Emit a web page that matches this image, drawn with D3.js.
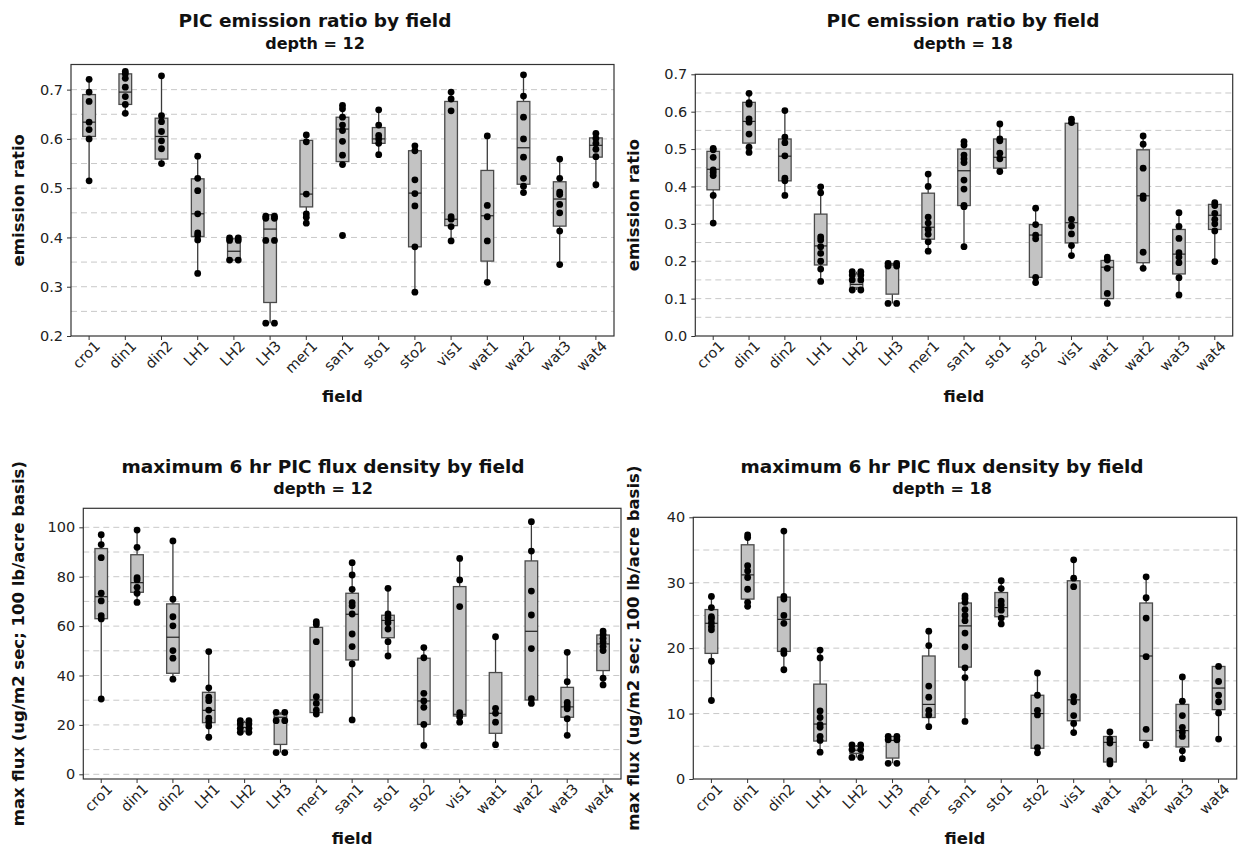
<!DOCTYPE html>
<html>
<head>
<meta charset="utf-8">
<script src="https://cdn.jsdelivr.net/npm/d3@7/dist/d3.min.js"></script>
<style>
body { margin: 0; background: #fff; }
svg text { font-family: "DejaVu Sans", Verdana, sans-serif; fill: #111; }
</style>
</head>
<body>
<svg id="chart" width="1241" height="850"></svg>
<script>
// field names (x categories, same for all 4 panels)
var fields = ["cro1", "din1", "din2", "LH1", "LH2", "LH3", "mer1", "san1", "sto1", "sto2", "vis1", "wat1", "wat2", "wat3", "wat4"];

// emission ratio, depth = 12
var ratio12Points = [
    [0.721, 0.695, 0.676, 0.634, 0.619, 0.600, 0.515],
    [0.737, 0.732, 0.723, 0.705, 0.686, 0.670, 0.652],
    [0.728, 0.647, 0.635, 0.615, 0.596, 0.580, 0.550],
    [0.565, 0.520, 0.495, 0.448, 0.409, 0.404, 0.395, 0.327],
    [0.399, 0.399, 0.394, 0.394, 0.354, 0.354],
    [0.443, 0.443, 0.439, 0.439, 0.394, 0.394, 0.226, 0.226],
    [0.608, 0.594, 0.488, 0.448, 0.441, 0.429],
    [0.668, 0.661, 0.644, 0.628, 0.617, 0.595, 0.567, 0.548, 0.404],
    [0.659, 0.628, 0.607, 0.600, 0.591, 0.568],
    [0.586, 0.576, 0.517, 0.489, 0.464, 0.381, 0.289],
    [0.695, 0.681, 0.657, 0.442, 0.437, 0.422, 0.393],
    [0.606, 0.465, 0.442, 0.393, 0.309],
    [0.730, 0.687, 0.644, 0.600, 0.563, 0.520, 0.504, 0.491],
    [0.559, 0.520, 0.492, 0.487, 0.467, 0.450, 0.413, 0.345],
    [0.611, 0.601, 0.591, 0.579, 0.564, 0.507]
];
var ratio12Q1 = [0.605, 0.670, 0.559, 0.402, 0.354, 0.268, 0.462, 0.554, 0.591, 0.381, 0.424, 0.352, 0.508, 0.423, 0.563];
var ratio12Median = [0.634, 0.695, 0.605, 0.448, 0.372, 0.417, 0.488, 0.620, 0.600, 0.490, 0.437, 0.444, 0.582, 0.478, 0.587];
var ratio12Q3 = [0.690, 0.732, 0.642, 0.519, 0.397, 0.446, 0.597, 0.644, 0.623, 0.576, 0.676, 0.536, 0.676, 0.513, 0.602];

// emission ratio, depth = 18
var ratio18Points = [
    [0.502, 0.498, 0.478, 0.444, 0.437, 0.429, 0.376, 0.302],
    [0.649, 0.624, 0.620, 0.581, 0.572, 0.540, 0.505, 0.491],
    [0.603, 0.532, 0.517, 0.482, 0.422, 0.415, 0.376],
    [0.399, 0.383, 0.265, 0.257, 0.239, 0.221, 0.200, 0.179, 0.146],
    [0.172, 0.172, 0.163, 0.163, 0.150, 0.150, 0.123, 0.123],
    [0.194, 0.194, 0.187, 0.187, 0.087, 0.087],
    [0.433, 0.400, 0.318, 0.302, 0.285, 0.272, 0.252, 0.227],
    [0.520, 0.511, 0.484, 0.474, 0.464, 0.417, 0.393, 0.349, 0.346, 0.239],
    [0.567, 0.527, 0.522, 0.489, 0.474, 0.440],
    [0.342, 0.298, 0.270, 0.260, 0.157, 0.143],
    [0.580, 0.571, 0.312, 0.294, 0.273, 0.242, 0.215],
    [0.211, 0.203, 0.181, 0.114, 0.087],
    [0.535, 0.513, 0.449, 0.375, 0.368, 0.224, 0.181],
    [0.330, 0.293, 0.261, 0.223, 0.211, 0.196, 0.156, 0.110],
    [0.357, 0.349, 0.328, 0.312, 0.300, 0.281, 0.199]
];
var ratio18Q1 = [0.391, 0.516, 0.415, 0.190, 0.129, 0.112, 0.259, 0.349, 0.449, 0.157, 0.249, 0.100, 0.196, 0.166, 0.285];
var ratio18Median = [0.446, 0.574, 0.481, 0.241, 0.138, 0.190, 0.291, 0.442, 0.478, 0.270, 0.303, 0.184, 0.375, 0.219, 0.323];
var ratio18Q3 = [0.494, 0.625, 0.527, 0.326, 0.166, 0.194, 0.382, 0.500, 0.527, 0.298, 0.569, 0.202, 0.498, 0.285, 0.352];

// max 6 hr flux, depth = 12
var flux12Points = [
    [97.0, 93.0, 87.7, 73.3, 70.2, 64.2, 62.9, 30.5],
    [98.9, 91.9, 79.6, 78.7, 75.7, 73.3, 69.6],
    [94.5, 70.9, 63.8, 60.1, 50.1, 47.0, 38.5],
    [49.7, 35.0, 31.2, 29.8, 26.0, 22.7, 21.3, 19.6, 15.0],
    [21.7, 21.7, 20.4, 20.4, 18.6, 18.6, 17.0, 17.0],
    [25.1, 25.1, 21.7, 21.7, 8.8, 8.8],
    [61.8, 60.7, 53.7, 31.4, 28.7, 26.0, 24.4],
    [85.7, 80.7, 74.9, 69.5, 68.2, 64.9, 56.8, 51.7, 44.7, 22.0],
    [75.3, 64.9, 63.4, 61.4, 58.8, 53.7, 47.9],
    [51.3, 47.2, 32.8, 29.7, 27.1, 20.2, 11.7],
    [87.4, 78.7, 67.9, 25.0, 23.3, 21.1],
    [55.7, 26.7, 24.7, 21.1, 12.0],
    [102.3, 90.4, 74.2, 64.5, 50.9, 30.6, 28.7],
    [49.4, 37.5, 29.1, 27.8, 26.5, 22.5, 15.8],
    [58.0, 56.7, 55.1, 53.6, 51.7, 50.1, 38.9, 36.2]
];
var flux12Q1 = [63.0, 73.7, 40.9, 20.9, 17.5, 12.1, 25.0, 46.3, 55.3, 20.2, 23.6, 16.6, 30.1, 23.1, 42.0];
var flux12Median = [71.9, 77.6, 55.5, 25.9, 19.0, 23.1, 30.1, 64.8, 62.3, 29.7, 24.3, 24.7, 57.9, 27.3, 52.8];
var flux12Q3 = [91.4, 88.9, 69.0, 33.2, 21.0, 24.4, 59.5, 73.3, 64.4, 47.0, 76.0, 41.2, 86.4, 35.2, 56.4];

// max 6 hr flux, depth = 18
var flux18Points = [
    [27.9, 26.2, 24.8, 24.5, 23.9, 23.3, 22.8, 18.0, 12.0],
    [37.3, 36.9, 32.6, 31.8, 30.8, 29.0, 27.0, 26.4],
    [37.9, 27.9, 27.5, 25.0, 23.8, 19.6, 19.2, 16.7],
    [19.7, 18.5, 10.4, 9.4, 8.3, 7.9, 6.5, 5.9, 4.1],
    [5.2, 5.2, 4.5, 4.5, 3.3, 3.3],
    [6.5, 6.5, 6.0, 6.0, 2.4, 2.4],
    [22.6, 20.4, 14.2, 12.5, 10.5, 9.8, 8.0],
    [28.0, 27.6, 27.0, 25.9, 25.0, 24.2, 22.3, 20.2, 17.0, 15.5, 8.8],
    [30.3, 29.1, 27.2, 26.6, 25.8, 24.6, 23.7],
    [16.2, 12.8, 10.5, 9.8, 4.8, 4.0],
    [33.5, 30.7, 29.4, 12.6, 11.8, 9.7, 8.5, 7.1],
    [7.2, 6.1, 5.5, 2.8, 2.3],
    [30.9, 27.7, 24.6, 18.7, 7.6, 5.2],
    [15.6, 11.9, 9.7, 7.9, 7.2, 6.5, 4.3, 3.1],
    [17.2, 14.9, 12.8, 11.8, 10.1, 6.1]
];
var flux18Q1 = [19.2, 27.5, 19.5, 5.8, 3.9, 3.2, 9.4, 17.1, 24.8, 4.7, 8.9, 2.6, 5.9, 4.9, 10.6];
var flux18Median = [23.8, 31.2, 24.4, 8.4, 4.4, 5.9, 11.4, 23.4, 26.2, 10.0, 12.1, 5.6, 18.8, 7.4, 13.9];
var flux18Q3 = [25.9, 35.8, 27.8, 14.5, 5.0, 6.5, 18.8, 26.9, 28.5, 12.8, 30.3, 6.5, 26.9, 11.4, 17.2];

// axis tick labels
var ratio12Ticks = [0.2, 0.3, 0.4, 0.5, 0.6, 0.7];
var ratio18Ticks = [0.0, 0.1, 0.2, 0.3, 0.4, 0.5, 0.6, 0.7];
var flux12Ticks = [0, 20, 40, 60, 80, 100];
var flux18Ticks = [0, 10, 20, 30, 40];

var ratioTitle = "PIC emission ratio by field";
var fluxTitle = "maximum 6 hr PIC flux density by field";
var ratioLabel = "emission ratio";
var fluxLabel = "max flux (ug/m2 sec; 100 lb/acre basis)";

// panel layout
var panels = [
    {points: ratio12Points, q1: ratio12Q1, med: ratio12Median, q3: ratio12Q3,
     ticks: ratio12Ticks, fmt: d3.format(".1f"), domain: [0.2, 0.751], gridStep: 0.05,
     title: ratioTitle, sub: "depth = 12", ylabel: ratioLabel,
     m: {left: 71, right: 614, top: 64.5, bottom: 336},
     titleX: 315, titleY: 27, subY: 49, ylabX: 24, xlabY: 402},
    {points: ratio18Points, q1: ratio18Q1, med: ratio18Median, q3: ratio18Q3,
     ticks: ratio18Ticks, fmt: d3.format(".1f"), domain: [0, 0.7], gridStep: 0.05,
     title: ratioTitle, sub: "depth = 18", ylabel: ratioLabel,
     m: {left: 695.3, right: 1232.7, top: 74.3, bottom: 336},
     titleX: 963, titleY: 27, subY: 49, ylabX: 639, xlabY: 402},
    {points: flux12Points, q1: flux12Q1, med: flux12Median, q3: flux12Q3,
     ticks: flux12Ticks, fmt: d3.format("d"), domain: [-1.9, 107.7], gridStep: 10,
     title: fluxTitle, sub: "depth = 12", ylabel: fluxLabel,
     m: {left: 83.3, right: 621, top: 508.3, bottom: 779},
     titleX: 323, titleY: 473, subY: 494, ylabX: 24, xlabY: 844},
    {points: flux18Points, q1: flux18Q1, med: flux18Median, q3: flux18Q3,
     ticks: flux18Ticks, fmt: d3.format("d"), domain: [0, 40], gridStep: 5,
     title: fluxTitle, sub: "depth = 18", ylabel: fluxLabel,
     m: {left: 693.3, right: 1236.7, top: 517.3, bottom: 779},
     titleX: 942, titleY: 473, subY: 494, ylabX: 639, xlabY: 844}
];

var svg = d3.select("#chart");

panels.forEach(function(p) {
    var m = p.m;
    var g = svg.append("g");

    var xScale = d3.scaleBand()
        .domain(fields)
        .range([m.left, m.right]);

    var yScale = d3.scaleLinear()
        .domain(p.domain)
        .range([m.bottom, m.top]);

    // dashed grid lines every half tick step
    var gridVals = d3.range(Math.ceil(p.domain[0] / p.gridStep), Math.floor(p.domain[1] / p.gridStep) + 1)
        .map(function(k) { return k * p.gridStep; })
        .filter(function(v) { return yScale(v) < m.bottom - 1 && yScale(v) > m.top + 1; });

    g.selectAll("line.grid")
        .data(gridVals)
        .enter()
        .append("line")
        .attr("class", "grid")
        .attr("x1", m.left)
        .attr("x2", m.right)
        .attr("y1", function(d) { return yScale(d); })
        .attr("y2", function(d) { return yScale(d); })
        .style("stroke", "#c8c8c8")
        .style("stroke-width", 1)
        .style("stroke-dasharray", "6,4");

    var boxW = xScale.bandwidth() * 0.35;
    var dodge = xScale.bandwidth() * 0.24;

    var rows = fields.map(function(f, i) {
        var q1 = p.q1[i], q3 = p.q3[i], iqr = q3 - q1;
        var inside = p.points[i].filter(function(v) { return v >= q1 - 1.5 * iqr && v <= q3 + 1.5 * iqr; });
        return {
            field: f, q1: q1, med: p.med[i], q3: q3,
            lo: Math.min(q1, d3.min(inside)),
            hi: Math.max(q3, d3.max(inside)),
            pts: p.points[i]
        };
    });

    var cats = g.selectAll("g.cat")
        .data(rows)
        .enter()
        .append("g")
        .attr("class", "cat")
        .attr("transform", function(d) { return "translate(" + (xScale(d.field) + xScale.bandwidth() / 2) + ",0)"; });

    // whiskers
    cats.append("line")
        .attr("x1", 0).attr("x2", 0)
        .attr("y1", function(d) { return yScale(d.hi); })
        .attr("y2", function(d) { return yScale(d.q3); })
        .style("stroke", "#3a3a3a").style("stroke-width", 1.3);
    cats.append("line")
        .attr("x1", 0).attr("x2", 0)
        .attr("y1", function(d) { return yScale(d.q1); })
        .attr("y2", function(d) { return yScale(d.lo); })
        .style("stroke", "#3a3a3a").style("stroke-width", 1.3);

    // boxes
    cats.append("rect")
        .attr("x", -boxW / 2)
        .attr("width", boxW)
        .attr("y", function(d) { return yScale(d.q3); })
        .attr("height", function(d) { return yScale(d.q1) - yScale(d.q3); })
        .style("fill", "#c3c3c3")
        .style("stroke", "#4a4a4a")
        .style("stroke-width", 1.3);

    cats.append("line")
        .attr("x1", -boxW / 2).attr("x2", boxW / 2)
        .attr("y1", function(d) { return yScale(d.med); })
        .attr("y2", function(d) { return yScale(d.med); })
        .style("stroke", "#222").style("stroke-width", 1.2);

    // points, identical values are placed side by side
    cats.selectAll("circle")
        .data(function(d) {
            var counts = d3.rollup(d.pts, function(v) { return v.length; }, function(v) { return v; });
            var seen = new Map();
            return d.pts.map(function(v) {
                var n = counts.get(v), k = seen.get(v) || 0;
                seen.set(v, k + 1);
                return {v: v, off: (k - (n - 1) / 2) * dodge};
            });
        })
        .enter()
        .append("circle")
        .attr("cx", function(d) { return d.off; })
        .attr("cy", function(d) { return yScale(d.v); })
        .attr("r", 3.4)
        .style("fill", "#000");

    // frame
    g.append("rect")
        .attr("x", m.left).attr("y", m.top)
        .attr("width", m.right - m.left).attr("height", m.bottom - m.top)
        .style("fill", "none").style("stroke", "#333").style("stroke-width", 1.2);

    // axes
    var xAxis = d3.axisBottom(xScale).tickSize(4).tickPadding(3);
    var yAxis = d3.axisLeft(yScale).tickValues(p.ticks).tickFormat(p.fmt).tickSize(4).tickPadding(4);

    var gx = g.append("g")
        .attr("transform", "translate(0," + m.bottom + ")")
        .call(xAxis);
    gx.select(".domain").remove();
    gx.selectAll("line").style("stroke", "#333");
    gx.selectAll("text")
        .style("font-size", "14.5px")
        .style("fill", "#222")
        .attr("text-anchor", "end")
        .attr("dy", "0.3em")
        .attr("transform", "translate(4,3) rotate(-45)");

    var gy = g.append("g")
        .attr("transform", "translate(" + m.left + ",0)")
        .call(yAxis);
    gy.select(".domain").remove();
    gy.selectAll("line").style("stroke", "#333");
    gy.selectAll("text").style("font-size", "14.5px").style("fill", "#222");

    // titles and labels
    g.append("text")
        .attr("x", p.titleX).attr("y", p.titleY)
        .attr("text-anchor", "middle")
        .style("font-size", "18.5px").style("font-weight", "bold")
        .text(p.title);
    g.append("text")
        .attr("x", p.titleX).attr("y", p.subY)
        .attr("text-anchor", "middle")
        .style("font-size", "16px").style("font-weight", "bold")
        .text(p.sub);
    g.append("text")
        .attr("x", (m.left + m.right) / 2).attr("y", p.xlabY)
        .attr("text-anchor", "middle")
        .style("font-size", "16.5px").style("font-weight", "bold")
        .text("field");
    g.append("text")
        .attr("transform", "translate(" + p.ylabX + "," + (m.top + m.bottom) / 2 + ") rotate(-90)")
        .attr("text-anchor", "middle")
        .style("font-size", "16.5px").style("font-weight", "bold")
        .text(p.ylabel);
});
</script>
</body>
</html>
